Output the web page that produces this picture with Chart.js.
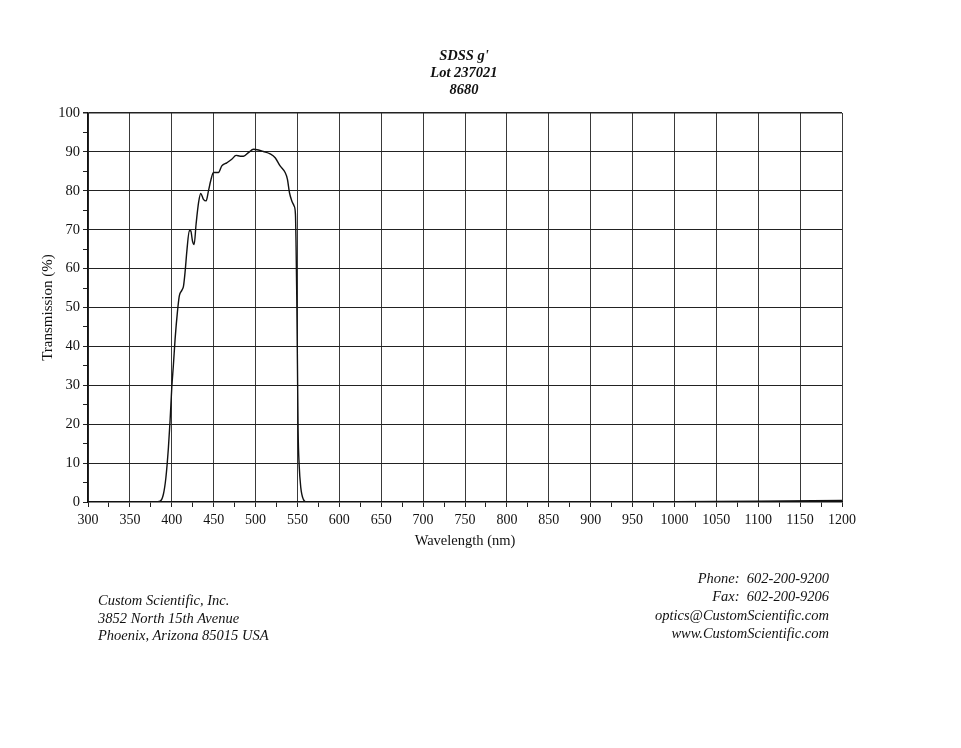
<!DOCTYPE html>
<html>
<head>
<meta charset="utf-8">
<script src="https://cdn.jsdelivr.net/npm/chart.js@4/dist/chart.umd.min.js"></script>
<style>
  html,body{margin:0;padding:0;background:#fff;}
  #wrap{position:relative;width:961px;height:748px;overflow:hidden;}
  canvas{position:absolute;left:0;top:0;}
  .t{position:absolute;font-family:"Liberation Serif","Times New Roman",serif;color:#111;white-space:nowrap;}
  .title{left:0;width:928px;text-align:center;font-weight:bold;font-style:italic;font-size:14.5px;line-height:17px;top:47px;}
  .foot{font-style:italic;font-size:14.5px;}
</style>
</head>
<body>
<div id="wrap">
  <canvas id="c" width="961" height="748"></canvas>
  <div class="t title">SDSS g'<br>Lot 237021<br>8680</div>
  <div class="t foot" style="left:98px;top:592px;line-height:17.5px;">Custom Scientific, Inc.<br>3852 North 15th Avenue<br>Phoenix, Arizona 85015 USA</div>
  <div class="t foot" style="right:132px;top:569px;line-height:18.3px;text-align:right;">Phone:&nbsp; 602-200-9200<br>Fax:&nbsp; 602-200-9206<br>optics@CustomScientific.com<br>www.CustomScientific.com</div>
</div>
<script>
const wavelengths = [300, 380, 386, 390, 393, 396, 398, 400, 402, 404, 406.8, 409, 412, 414, 416, 418, 421, 422.7, 424.7, 426.7, 429, 432, 434.6, 437.8, 441, 443.8, 446.6, 449.7, 455.7, 459.7, 465.7, 471.6, 476.8, 481.6, 485.6, 491.5, 497.5, 503.5, 509.4, 517.4, 523.4, 529.3, 535.3, 538, 540.5, 543.3, 546, 547.6, 548.4, 549.2, 550, 550.8, 552, 554, 557, 561, 600, 800, 1000, 1100, 1200];
const transmission = [0, 0, 0.2, 2, 6.3, 14, 21, 29.4, 35.4, 42, 49, 53, 54.4, 55.5, 59.4, 64.5, 69.8, 69.7, 67.1, 66.2, 71.4, 77, 79.3, 77.8, 77.4, 80, 82.7, 84.7, 84.7, 86.4, 87.2, 88.1, 89.1, 88.9, 88.9, 89.8, 90.7, 90.5, 90.1, 89.5, 88.5, 86.4, 84.7, 83, 79.5, 77.4, 76.1, 74, 65.4, 52.5, 35.4, 18.3, 9.7, 3.7, 0.7, 0, 0, 0, 0.1, 0.2, 0.4];
const xTickLabels = [300,350,400,450,500,550,600,650,700,750,800,850,900,950,1000,1050,1100,1150,1200];
const yTickLabels = [0,10,20,30,40,50,60,70,80,90,100];

const points = wavelengths.map((w,i)=>({x:w,y:transmission[i]}));
const serif = "'Liberation Serif','Times New Roman',serif";

new Chart(document.getElementById('c'), {
  type: 'line',
  data: { datasets: [{ data: points, borderColor:'#111', borderWidth:1.4, pointRadius:0, cubicInterpolationMode:'monotone', fill:false }] },
  options: {
    responsive:false, animation:false,
    layout:{ padding:{ left:28, top:113, right:119, bottom:198 } },
    plugins:{ legend:{display:false}, tooltip:{enabled:false}, title:{display:false} },
    scales:{
      x:{
        type:'linear', min:300, max:1200,
        afterFit(s){ s.height = 48; },
        afterBuildTicks(s){ const t=[]; for(let v=300; v<=1200; v+=25) t.push({value:v}); s.ticks=t; },
        ticks:{ autoSkip:false, maxRotation:0, padding:5, color:'#111',
          font:{family:serif, size:14},
          callback:(v)=> xTickLabels.includes(v) ? String(v) : '' },
        grid:{ color:(c)=> (c.tick && xTickLabels.includes(c.tick.value)) ? '#3a3a3a' : 'rgba(0,0,0,0)',
          tickColor:'#222', tickLength:5, lineWidth:1 },
        border:{ color:'#111', width:1.5 },
        title:{ display:true, text:'Wavelength (nm)', color:'#111', font:{family:serif, size:14.5}, padding:0 }
      },
      y:{
        type:'linear', min:0, max:100,
        afterFit(s){ s.width = 60; },
        afterBuildTicks(s){ const t=[]; for(let v=0; v<=100; v+=5) t.push({value:v}); s.ticks=t; },
        ticks:{ autoSkip:false, padding:3, color:'#111',
          font:{family:serif, size:14.5},
          callback:(v)=> yTickLabels.includes(v) ? String(v) : '' },
        grid:{ color:(c)=> (c.tick && yTickLabels.includes(c.tick.value) && c.tick.value!==0) ? '#222' : 'rgba(0,0,0,0)',
          tickColor:'#222', tickLength:5, lineWidth:(c)=> (c.tick && c.tick.value===100) ? 1.5 : 1 },
        border:{ color:'#111', width:1.5 },
        title:{ display:true, text:'Transmission (%)', color:'#111', font:{family:serif, size:15}, padding:{top:11,bottom:0} }
      }
    }
  }
});
</script>
</body>
</html>
